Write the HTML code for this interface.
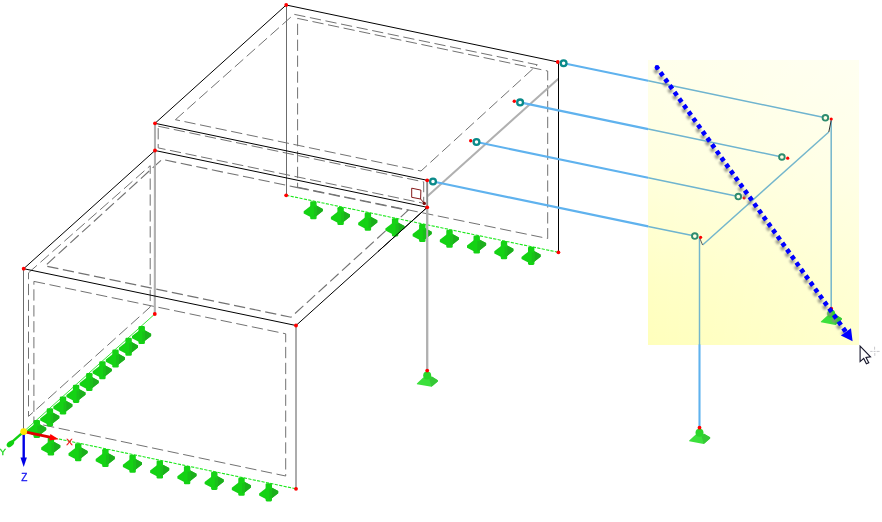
<!DOCTYPE html>
<html><head><meta charset="utf-8"><title>Model</title>
<style>
html,body{margin:0;padding:0;background:#ffffff;}
body{width:882px;height:522px;overflow:hidden;font-family:"Liberation Sans",sans-serif;}
svg{display:block;position:absolute;left:0;top:0;}
svg text{font-family:"Liberation Sans",sans-serif;}
#sel{position:absolute;left:648px;top:59.5px;width:210.7px;height:285px;
background:linear-gradient(to right,rgba(255,255,255,0) 0%,rgba(255,255,255,0.28) 100%),linear-gradient(to bottom,#ffffec 0%,#ffffe0 35%,#ffffc4 80%,#ffffbc 100%);}
</style></head><body>
<div id="sel"></div>
<svg width="882" height="522" viewBox="0 0 882 522">
<defs><filter id="sh" x="-5%" y="-5%" width="110%" height="110%"><feGaussianBlur stdDeviation="0.9"/></filter></defs>
<polygon points="175.4,119.7 294.0,14.3 537.3,64.8 421.0,171.0" fill="none" stroke="#727272" stroke-width="1" stroke-dasharray="11.3 4.6"/><polygon points="297.6,187.2 547.7,238.5 547.7,71.0 297.6,18.4" fill="none" stroke="#727272" stroke-width="1" stroke-dasharray="11.3 4.6"/><polygon points="158.2,126.2 423.7,181.9 423.7,203.3 158.2,147.9" fill="none" stroke="#727272" stroke-width="1" stroke-dasharray="11.3 4.6"/><polygon points="297.6,187.6 408.0,210.4 291.0,317.2 45.1,265.9 162.0,159.4" fill="none" stroke="#727272" stroke-width="1.15" stroke-dasharray="11.3 4.6"/><polygon points="28.5,272.8 150.2,165.7 150.2,307.0 28.5,416.4" fill="none" stroke="#727272" stroke-width="1" stroke-dasharray="11.3 4.6"/><polygon points="33.9,281.4 285.7,333.8 285.7,476.0 33.9,423.0" fill="none" stroke="#727272" stroke-width="1" stroke-dasharray="11.3 4.6"/><line x1="558.4" y1="78.7" x2="427.4" y2="196.3" stroke="#b0b0b0" stroke-width="2"/><line x1="155.0" y1="123.3" x2="154.8" y2="314.0" stroke="#b0b0b0" stroke-width="2.1"/><line x1="427.2" y1="180.3" x2="427.2" y2="370.6" stroke="#b0b0b0" stroke-width="2"/><line x1="296.0" y1="325.5" x2="296.0" y2="488.8" stroke="#acacac" stroke-width="2"/><line x1="286.5" y1="5.0" x2="286.5" y2="195.3" stroke="#6c6c6c" stroke-width="1"/><line x1="23.5" y1="268.7" x2="23.5" y2="431.6" stroke="#6c6c6c" stroke-width="1"/><line x1="558.5" y1="62.0" x2="558.5" y2="252.3" stroke="#000000" stroke-width="1.0"/><line x1="286.2" y1="5.0" x2="557.8" y2="62.0" stroke="#000000" stroke-width="1.0"/><line x1="286.2" y1="5.0" x2="155.0" y2="123.3" stroke="#000000" stroke-width="1.0"/><line x1="155.0" y1="123.3" x2="427.2" y2="180.3" stroke="#000000" stroke-width="1.0"/><line x1="155.0" y1="150.5" x2="427.2" y2="207.3" stroke="#000000" stroke-width="1.0"/><line x1="23.7" y1="268.7" x2="296.0" y2="325.5" stroke="#000000" stroke-width="1.0"/><line x1="23.7" y1="268.7" x2="155.0" y2="150.5" stroke="#000000" stroke-width="1.0"/><line x1="296.0" y1="325.5" x2="427.2" y2="207.3" stroke="#000000" stroke-width="1.0"/><line x1="286.2" y1="195.3" x2="558.4" y2="252.3" stroke="#1ee81e" stroke-width="1.1" stroke-dasharray="3.2 1.3"/><line x1="23.7" y1="431.6" x2="296.0" y2="488.8" stroke="#1ee81e" stroke-width="1.1" stroke-dasharray="3.2 1.3"/><line x1="23.7" y1="431.6" x2="154.8" y2="314.0" stroke="#2ee62e" stroke-width="0.95"/><g transform="translate(313.4,201.0)"><polygon points="-9.7,10.3 0,2.8 9.4,7.9 9.4,10.1 0,17.5 -9.7,12.5" fill="#14d214"/><polygon points="0.5,3.2 9.4,7.9 9.4,10.1 0.5,17.1" fill="#1cae1c"/><rect x="-3.2" y="0.2" width="6.4" height="18.1" rx="1.3" fill="#14d214"/><polygon points="0.6,5.6 3.2,6.2 3.2,14.6 0.6,16.2" fill="#19c019"/></g><g transform="translate(340.6,206.7)"><polygon points="-9.7,10.3 0,2.8 9.4,7.9 9.4,10.1 0,17.5 -9.7,12.5" fill="#14d214"/><polygon points="0.5,3.2 9.4,7.9 9.4,10.1 0.5,17.1" fill="#1cae1c"/><rect x="-3.2" y="0.2" width="6.4" height="18.1" rx="1.3" fill="#14d214"/><polygon points="0.6,5.6 3.2,6.2 3.2,14.6 0.6,16.2" fill="#19c019"/></g><g transform="translate(367.9,212.4)"><polygon points="-9.7,10.3 0,2.8 9.4,7.9 9.4,10.1 0,17.5 -9.7,12.5" fill="#14d214"/><polygon points="0.5,3.2 9.4,7.9 9.4,10.1 0.5,17.1" fill="#1cae1c"/><rect x="-3.2" y="0.2" width="6.4" height="18.1" rx="1.3" fill="#14d214"/><polygon points="0.6,5.6 3.2,6.2 3.2,14.6 0.6,16.2" fill="#19c019"/></g><g transform="translate(395.1,218.1)"><polygon points="-9.7,10.3 0,2.8 9.4,7.9 9.4,10.1 0,17.5 -9.7,12.5" fill="#14d214"/><polygon points="0.5,3.2 9.4,7.9 9.4,10.1 0.5,17.1" fill="#1cae1c"/><rect x="-3.2" y="0.2" width="6.4" height="18.1" rx="1.3" fill="#14d214"/><polygon points="0.6,5.6 3.2,6.2 3.2,14.6 0.6,16.2" fill="#19c019"/></g><g transform="translate(422.3,223.8)"><polygon points="-9.7,10.3 0,2.8 9.4,7.9 9.4,10.1 0,17.5 -9.7,12.5" fill="#14d214"/><polygon points="0.5,3.2 9.4,7.9 9.4,10.1 0.5,17.1" fill="#1cae1c"/><rect x="-3.2" y="0.2" width="6.4" height="18.1" rx="1.3" fill="#14d214"/><polygon points="0.6,5.6 3.2,6.2 3.2,14.6 0.6,16.2" fill="#19c019"/></g><g transform="translate(449.5,229.5)"><polygon points="-9.7,10.3 0,2.8 9.4,7.9 9.4,10.1 0,17.5 -9.7,12.5" fill="#14d214"/><polygon points="0.5,3.2 9.4,7.9 9.4,10.1 0.5,17.1" fill="#1cae1c"/><rect x="-3.2" y="0.2" width="6.4" height="18.1" rx="1.3" fill="#14d214"/><polygon points="0.6,5.6 3.2,6.2 3.2,14.6 0.6,16.2" fill="#19c019"/></g><g transform="translate(476.7,235.2)"><polygon points="-9.7,10.3 0,2.8 9.4,7.9 9.4,10.1 0,17.5 -9.7,12.5" fill="#14d214"/><polygon points="0.5,3.2 9.4,7.9 9.4,10.1 0.5,17.1" fill="#1cae1c"/><rect x="-3.2" y="0.2" width="6.4" height="18.1" rx="1.3" fill="#14d214"/><polygon points="0.6,5.6 3.2,6.2 3.2,14.6 0.6,16.2" fill="#19c019"/></g><g transform="translate(504.0,240.9)"><polygon points="-9.7,10.3 0,2.8 9.4,7.9 9.4,10.1 0,17.5 -9.7,12.5" fill="#14d214"/><polygon points="0.5,3.2 9.4,7.9 9.4,10.1 0.5,17.1" fill="#1cae1c"/><rect x="-3.2" y="0.2" width="6.4" height="18.1" rx="1.3" fill="#14d214"/><polygon points="0.6,5.6 3.2,6.2 3.2,14.6 0.6,16.2" fill="#19c019"/></g><g transform="translate(531.2,246.6)"><polygon points="-9.7,10.3 0,2.8 9.4,7.9 9.4,10.1 0,17.5 -9.7,12.5" fill="#14d214"/><polygon points="0.5,3.2 9.4,7.9 9.4,10.1 0.5,17.1" fill="#1cae1c"/><rect x="-3.2" y="0.2" width="6.4" height="18.1" rx="1.3" fill="#14d214"/><polygon points="0.6,5.6 3.2,6.2 3.2,14.6 0.6,16.2" fill="#19c019"/></g><g transform="translate(36.8,419.8)"><polygon points="-9.7,10.3 0,2.8 9.4,7.9 9.4,10.1 0,17.5 -9.7,12.5" fill="#14d214"/><polygon points="0.5,3.2 9.4,7.9 9.4,10.1 0.5,17.1" fill="#1cae1c"/><rect x="-3.2" y="0.2" width="6.4" height="18.1" rx="1.3" fill="#14d214"/><polygon points="0.6,5.6 3.2,6.2 3.2,14.6 0.6,16.2" fill="#19c019"/></g><g transform="translate(49.9,408.1)"><polygon points="-9.7,10.3 0,2.8 9.4,7.9 9.4,10.1 0,17.5 -9.7,12.5" fill="#14d214"/><polygon points="0.5,3.2 9.4,7.9 9.4,10.1 0.5,17.1" fill="#1cae1c"/><rect x="-3.2" y="0.2" width="6.4" height="18.1" rx="1.3" fill="#14d214"/><polygon points="0.6,5.6 3.2,6.2 3.2,14.6 0.6,16.2" fill="#19c019"/></g><g transform="translate(63.0,396.3)"><polygon points="-9.7,10.3 0,2.8 9.4,7.9 9.4,10.1 0,17.5 -9.7,12.5" fill="#14d214"/><polygon points="0.5,3.2 9.4,7.9 9.4,10.1 0.5,17.1" fill="#1cae1c"/><rect x="-3.2" y="0.2" width="6.4" height="18.1" rx="1.3" fill="#14d214"/><polygon points="0.6,5.6 3.2,6.2 3.2,14.6 0.6,16.2" fill="#19c019"/></g><g transform="translate(76.1,384.6)"><polygon points="-9.7,10.3 0,2.8 9.4,7.9 9.4,10.1 0,17.5 -9.7,12.5" fill="#14d214"/><polygon points="0.5,3.2 9.4,7.9 9.4,10.1 0.5,17.1" fill="#1cae1c"/><rect x="-3.2" y="0.2" width="6.4" height="18.1" rx="1.3" fill="#14d214"/><polygon points="0.6,5.6 3.2,6.2 3.2,14.6 0.6,16.2" fill="#19c019"/></g><g transform="translate(89.3,372.8)"><polygon points="-9.7,10.3 0,2.8 9.4,7.9 9.4,10.1 0,17.5 -9.7,12.5" fill="#14d214"/><polygon points="0.5,3.2 9.4,7.9 9.4,10.1 0.5,17.1" fill="#1cae1c"/><rect x="-3.2" y="0.2" width="6.4" height="18.1" rx="1.3" fill="#14d214"/><polygon points="0.6,5.6 3.2,6.2 3.2,14.6 0.6,16.2" fill="#19c019"/></g><g transform="translate(102.4,361.0)"><polygon points="-9.7,10.3 0,2.8 9.4,7.9 9.4,10.1 0,17.5 -9.7,12.5" fill="#14d214"/><polygon points="0.5,3.2 9.4,7.9 9.4,10.1 0.5,17.1" fill="#1cae1c"/><rect x="-3.2" y="0.2" width="6.4" height="18.1" rx="1.3" fill="#14d214"/><polygon points="0.6,5.6 3.2,6.2 3.2,14.6 0.6,16.2" fill="#19c019"/></g><g transform="translate(115.5,349.3)"><polygon points="-9.7,10.3 0,2.8 9.4,7.9 9.4,10.1 0,17.5 -9.7,12.5" fill="#14d214"/><polygon points="0.5,3.2 9.4,7.9 9.4,10.1 0.5,17.1" fill="#1cae1c"/><rect x="-3.2" y="0.2" width="6.4" height="18.1" rx="1.3" fill="#14d214"/><polygon points="0.6,5.6 3.2,6.2 3.2,14.6 0.6,16.2" fill="#19c019"/></g><g transform="translate(128.6,337.5)"><polygon points="-9.7,10.3 0,2.8 9.4,7.9 9.4,10.1 0,17.5 -9.7,12.5" fill="#14d214"/><polygon points="0.5,3.2 9.4,7.9 9.4,10.1 0.5,17.1" fill="#1cae1c"/><rect x="-3.2" y="0.2" width="6.4" height="18.1" rx="1.3" fill="#14d214"/><polygon points="0.6,5.6 3.2,6.2 3.2,14.6 0.6,16.2" fill="#19c019"/></g><g transform="translate(141.7,325.8)"><polygon points="-9.7,10.3 0,2.8 9.4,7.9 9.4,10.1 0,17.5 -9.7,12.5" fill="#14d214"/><polygon points="0.5,3.2 9.4,7.9 9.4,10.1 0.5,17.1" fill="#1cae1c"/><rect x="-3.2" y="0.2" width="6.4" height="18.1" rx="1.3" fill="#14d214"/><polygon points="0.6,5.6 3.2,6.2 3.2,14.6 0.6,16.2" fill="#19c019"/></g><g transform="translate(50.9,437.3)"><polygon points="-9.7,10.3 0,2.8 9.4,7.9 9.4,10.1 0,17.5 -9.7,12.5" fill="#14d214"/><polygon points="0.5,3.2 9.4,7.9 9.4,10.1 0.5,17.1" fill="#1cae1c"/><rect x="-3.2" y="0.2" width="6.4" height="18.1" rx="1.3" fill="#14d214"/><polygon points="0.6,5.6 3.2,6.2 3.2,14.6 0.6,16.2" fill="#19c019"/></g><g transform="translate(78.2,443.0)"><polygon points="-9.7,10.3 0,2.8 9.4,7.9 9.4,10.1 0,17.5 -9.7,12.5" fill="#14d214"/><polygon points="0.5,3.2 9.4,7.9 9.4,10.1 0.5,17.1" fill="#1cae1c"/><rect x="-3.2" y="0.2" width="6.4" height="18.1" rx="1.3" fill="#14d214"/><polygon points="0.6,5.6 3.2,6.2 3.2,14.6 0.6,16.2" fill="#19c019"/></g><g transform="translate(105.4,448.8)"><polygon points="-9.7,10.3 0,2.8 9.4,7.9 9.4,10.1 0,17.5 -9.7,12.5" fill="#14d214"/><polygon points="0.5,3.2 9.4,7.9 9.4,10.1 0.5,17.1" fill="#1cae1c"/><rect x="-3.2" y="0.2" width="6.4" height="18.1" rx="1.3" fill="#14d214"/><polygon points="0.6,5.6 3.2,6.2 3.2,14.6 0.6,16.2" fill="#19c019"/></g><g transform="translate(132.6,454.5)"><polygon points="-9.7,10.3 0,2.8 9.4,7.9 9.4,10.1 0,17.5 -9.7,12.5" fill="#14d214"/><polygon points="0.5,3.2 9.4,7.9 9.4,10.1 0.5,17.1" fill="#1cae1c"/><rect x="-3.2" y="0.2" width="6.4" height="18.1" rx="1.3" fill="#14d214"/><polygon points="0.6,5.6 3.2,6.2 3.2,14.6 0.6,16.2" fill="#19c019"/></g><g transform="translate(159.8,460.2)"><polygon points="-9.7,10.3 0,2.8 9.4,7.9 9.4,10.1 0,17.5 -9.7,12.5" fill="#14d214"/><polygon points="0.5,3.2 9.4,7.9 9.4,10.1 0.5,17.1" fill="#1cae1c"/><rect x="-3.2" y="0.2" width="6.4" height="18.1" rx="1.3" fill="#14d214"/><polygon points="0.6,5.6 3.2,6.2 3.2,14.6 0.6,16.2" fill="#19c019"/></g><g transform="translate(187.1,465.9)"><polygon points="-9.7,10.3 0,2.8 9.4,7.9 9.4,10.1 0,17.5 -9.7,12.5" fill="#14d214"/><polygon points="0.5,3.2 9.4,7.9 9.4,10.1 0.5,17.1" fill="#1cae1c"/><rect x="-3.2" y="0.2" width="6.4" height="18.1" rx="1.3" fill="#14d214"/><polygon points="0.6,5.6 3.2,6.2 3.2,14.6 0.6,16.2" fill="#19c019"/></g><g transform="translate(214.3,471.6)"><polygon points="-9.7,10.3 0,2.8 9.4,7.9 9.4,10.1 0,17.5 -9.7,12.5" fill="#14d214"/><polygon points="0.5,3.2 9.4,7.9 9.4,10.1 0.5,17.1" fill="#1cae1c"/><rect x="-3.2" y="0.2" width="6.4" height="18.1" rx="1.3" fill="#14d214"/><polygon points="0.6,5.6 3.2,6.2 3.2,14.6 0.6,16.2" fill="#19c019"/></g><g transform="translate(241.5,477.4)"><polygon points="-9.7,10.3 0,2.8 9.4,7.9 9.4,10.1 0,17.5 -9.7,12.5" fill="#14d214"/><polygon points="0.5,3.2 9.4,7.9 9.4,10.1 0.5,17.1" fill="#1cae1c"/><rect x="-3.2" y="0.2" width="6.4" height="18.1" rx="1.3" fill="#14d214"/><polygon points="0.6,5.6 3.2,6.2 3.2,14.6 0.6,16.2" fill="#19c019"/></g><g transform="translate(268.8,483.1)"><polygon points="-9.7,10.3 0,2.8 9.4,7.9 9.4,10.1 0,17.5 -9.7,12.5" fill="#14d214"/><polygon points="0.5,3.2 9.4,7.9 9.4,10.1 0.5,17.1" fill="#1cae1c"/><rect x="-3.2" y="0.2" width="6.4" height="18.1" rx="1.3" fill="#14d214"/><polygon points="0.6,5.6 3.2,6.2 3.2,14.6 0.6,16.2" fill="#19c019"/></g><line x1="427.2" y1="207.3" x2="427.2" y2="370.6" stroke="#b0b0b0" stroke-width="2"/><line x1="378.0" y1="251.6" x2="427.2" y2="207.3" stroke="#000000" stroke-width="1.0"/><line x1="427.2" y1="180.3" x2="427.2" y2="207.3" stroke="#858585" stroke-width="1.3"/><polygon points="411.7,188.2 420.9,190.1 420.6,199.0 411.7,197.3" fill="none" stroke="#7e0c0c" stroke-width="0.95"/><line x1="420.6" y1="199.0" x2="424.2" y2="203.2" stroke="#7e0c0c" stroke-width="0.95"/><circle cx="424.3" cy="203.4" r="1.7" fill="#7a0c0c"/><line x1="563.6" y1="63.2" x2="648.2" y2="80.8" stroke="#5fb2ee" stroke-width="2.1"/><line x1="648.2" y1="80.8" x2="825.4" y2="117.8" stroke="#6fb4cf" stroke-width="1.5"/><line x1="520.1" y1="102.4" x2="648.2" y2="129.1" stroke="#5fb2ee" stroke-width="2.1"/><line x1="648.2" y1="129.1" x2="781.9" y2="157.0" stroke="#6fb4cf" stroke-width="1.5"/><line x1="476.5" y1="142.0" x2="648.2" y2="177.8" stroke="#5fb2ee" stroke-width="2.1"/><line x1="648.2" y1="177.8" x2="738.3" y2="196.6" stroke="#6fb4cf" stroke-width="1.5"/><line x1="433.0" y1="181.5" x2="648.2" y2="226.4" stroke="#5fb2ee" stroke-width="2.1"/><line x1="648.2" y1="226.4" x2="694.8" y2="236.1" stroke="#6fb4cf" stroke-width="1.5"/><line x1="831.2" y1="119.5" x2="831.2" y2="308.7" stroke="#74b6cc" stroke-width="1.5"/><line x1="699.5" y1="237.5" x2="699.5" y2="345.0" stroke="#74b6cc" stroke-width="1.5"/><line x1="699.5" y1="344.5" x2="699.5" y2="427.7" stroke="#5fb2ee" stroke-width="2.1"/><line x1="828.8" y1="132.0" x2="702.6" y2="245.0" stroke="#74b6cc" stroke-width="1.5"/><line x1="831.2" y1="120.4" x2="828.8" y2="132.0" stroke="#303030" stroke-width="1"/><line x1="699.5" y1="237.6" x2="702.6" y2="245.0" stroke="#60605a" stroke-width="1"/>
<circle cx="286.2" cy="5.0" r="1.9" fill="#ff0000"/><circle cx="557.8" cy="62.0" r="1.9" fill="#ff0000"/><circle cx="155.0" cy="123.3" r="1.9" fill="#ff0000"/><circle cx="427.2" cy="180.3" r="1.9" fill="#ff0000"/><circle cx="286.2" cy="195.3" r="1.9" fill="#ff0000"/><circle cx="558.4" cy="252.3" r="1.9" fill="#ff0000"/><circle cx="155.0" cy="150.5" r="1.9" fill="#ff0000"/><circle cx="427.2" cy="207.3" r="1.9" fill="#ff0000"/><circle cx="23.7" cy="268.7" r="1.9" fill="#ff0000"/><circle cx="296.0" cy="325.5" r="1.9" fill="#ff0000"/><circle cx="296.0" cy="488.8" r="1.9" fill="#ff0000"/><circle cx="154.8" cy="314.0" r="1.9" fill="#ff0000"/><circle cx="514.3" cy="101.2" r="1.7" fill="#ff0000"/><circle cx="470.7" cy="140.8" r="1.7" fill="#ff0000"/><circle cx="563.6" cy="63.2" r="2.9" fill="#ffffff" stroke="#0a8a8a" stroke-width="2.3"/><circle cx="520.1" cy="102.4" r="2.9" fill="#ffffff" stroke="#0a8a8a" stroke-width="2.3"/><circle cx="476.5" cy="142.0" r="2.9" fill="#ffffff" stroke="#0a8a8a" stroke-width="2.3"/><circle cx="433.0" cy="181.5" r="2.9" fill="#ffffff" stroke="#0a8a8a" stroke-width="2.3"/><g transform="translate(427.2,370.6)"><polygon points="-10.3,12.8 -4,7 4.6,6 10.6,9.6 10.6,10.8 4.3,16.2 -10.3,13.6" fill="#3ce03c"/><polygon points="4.6,6 10.6,9.6 10.6,10.8 4.3,16.2 2.2,9" fill="#36c836"/><circle cx="0" cy="5" r="4" fill="#2ad62a"/><circle cx="0" cy="0" r="1.9" fill="#ff0000"/></g><line x1="23.7" y1="431.6" x2="23.7" y2="460" stroke="#0000e6" stroke-width="2.4"/><polygon points="20.5,457.5 26.9,457.5 23.7,467" fill="#0000e6"/><line x1="23.7" y1="431.6" x2="51" y2="437.4" stroke="#e00000" stroke-width="2.8"/><polygon points="50.4,434.0 58.6,439.3 49.2,440.4" fill="#ff0000"/><line x1="23.7" y1="431.6" x2="9" y2="444.6" stroke="#10d010" stroke-width="2.4"/><ellipse cx="10.4" cy="443.8" rx="4.3" ry="2.6" transform="rotate(-41 10.4 443.8)" fill="#10d010"/><circle cx="23.7" cy="431.6" r="3.4" fill="#ffe600"/><g opacity="0.995" font-weight="normal" stroke-width="0.3"><text x="66.2" y="445.1" font-size="9.6" fill="#f01414" stroke="#f01414">X</text><text x="-0.6" y="455.4" font-size="9.8" fill="#1cd41c" stroke="#1cd41c">Y</text><text x="21.3" y="480.6" font-size="10.0" fill="#1414f0" stroke="#1414f0">Z</text></g>
<circle cx="825.4" cy="117.8" r="2.8" fill="#ffffe6" stroke="#2e8c6e" stroke-width="1.9"/><circle cx="831.2" cy="119.0" r="1.6" fill="#ff0000"/><circle cx="781.9" cy="157.0" r="2.8" fill="#ffffe6" stroke="#2e8c6e" stroke-width="1.9"/><circle cx="787.7" cy="158.2" r="1.6" fill="#ff0000"/><circle cx="738.3" cy="196.6" r="2.8" fill="#ffffe6" stroke="#2e8c6e" stroke-width="1.9"/><circle cx="744.1" cy="197.8" r="1.6" fill="#ff0000"/><circle cx="694.8" cy="236.1" r="2.8" fill="#ffffe6" stroke="#2e8c6e" stroke-width="1.9"/><circle cx="700.6" cy="237.3" r="1.6" fill="#ff0000"/><g transform="translate(831.2,308.7)"><polygon points="-10.3,12.8 -4,7 4.6,6 10.6,9.6 10.6,10.8 4.3,16.2 -10.3,13.6" fill="#3ce03c"/><polygon points="4.6,6 10.6,9.6 10.6,10.8 4.3,16.2 2.2,9" fill="#36c836"/><circle cx="0" cy="5" r="4" fill="#2ad62a"/><circle cx="0" cy="0" r="1.9" fill="#ff0000"/></g><g transform="translate(699.5,427.7)"><polygon points="-10.3,12.8 -4,7 4.6,6 10.6,9.6 10.6,10.8 4.3,16.2 -10.3,13.6" fill="#3ce03c"/><polygon points="4.6,6 10.6,9.6 10.6,10.8 4.3,16.2 2.2,9" fill="#36c836"/><circle cx="0" cy="5" r="4" fill="#2ad62a"/><circle cx="0" cy="0" r="1.9" fill="#ff0000"/></g><g filter="url(#sh)"><line x1="655.0" y1="69.3" x2="843.9" y2="333.6" stroke="#8c8c80" stroke-width="4.6" stroke-dasharray="4.3 3.76" stroke-opacity="0.85"/></g><circle cx="657.0" cy="67.5" r="2.4" fill="#0000ff"/><line x1="657.0" y1="67.5" x2="846.5" y2="332.7" stroke="#0000ff" stroke-width="4.6" stroke-dasharray="4.3 3.76" stroke-dashoffset="2.15"/><polygon points="852.6,341.2 840.9,335.4 851.0,328.2" fill="#0000ff"/><g transform="translate(859.6,345.2)"><polygon points="0.5,0.8 0.5,16.4 4.1,13.2 6.8,18.6 9.2,17.5 6.4,12.2 10.9,11.7" fill="#ffffff" stroke="#15152a" stroke-width="1.1" stroke-linejoin="miter"/><g stroke="#c8c8cc" stroke-width="1" fill="none"><path d="M15 1.5v3M10.6 6.2h2.4M14 6.2h2M17 6.2h3M15.2 7.8v2.8M17.4 7h0.1"/></g></g>
</svg>
</body></html>
